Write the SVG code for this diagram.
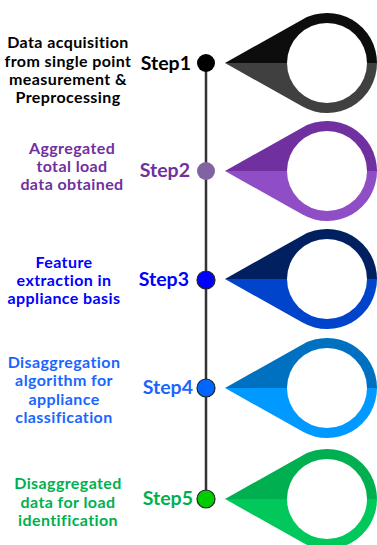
<svg xmlns="http://www.w3.org/2000/svg" width="377" height="545" viewBox="0 0 377 545">
<defs>
<style>
.t{font-family:Lato,"Open Sans","Liberation Sans",sans-serif;font-weight:bold;font-size:16px;letter-spacing:0.4px;text-anchor:middle}
.s{font-family:Lato,"Open Sans","Liberation Sans",sans-serif;font-weight:bold;font-size:19.5px;text-anchor:end}
.inner{fill:#fff}
.dot{stroke:#222;stroke-width:1.2}
</style>
<path id="pinTop" d="M-102,0 L-24.5,-43.6 A50,50 0 0 1 50,0 Z"/>
<path id="pinBot" d="M-102,0 L50,0 A50,50 0 0 1 -24.5,43.6 Z"/>
</defs>
<rect width="377" height="545" fill="#fff"/>
<g id="connectors">
<line x1="206" y1="63" x2="206" y2="499" stroke="#333" stroke-width="2.5"/>
</g>
<g id="step1">
<g transform="translate(327,63)">
<use href="#pinTop" fill="#0d0d0d"/><use href="#pinBot" fill="#404040"/><circle class="inner" r="40"/>
</g>
<circle cx="206" cy="63" r="9" fill="#000"/>
<text class="s" x="191" y="70" fill="#000">Step1</text>
<text class="t" fill="#000"><tspan x="68" y="48">Data acquisition</tspan><tspan x="68" y="67">from single point</tspan><tspan x="68" y="85">measurement &amp;</tspan><tspan x="68" y="103">Preprocessing</tspan></text>
</g>
<g id="step2">
<g transform="translate(327,171)">
<use href="#pinTop" fill="#7030a0"/><use href="#pinBot" fill="#904ec6"/><circle class="inner" r="40"/>
</g>
<circle cx="206" cy="171" r="9" fill="#8064a2"/>
<text class="s" x="190" y="177" fill="#7030a0">Step2</text>
<text class="t" fill="#7030a0"><tspan x="72" y="154">Aggregated</tspan><tspan x="72" y="172">total load</tspan><tspan x="72" y="190">data obtained</tspan></text>
</g>
<g id="step3">
<g transform="translate(327,279)">
<use href="#pinTop" fill="#002060"/><use href="#pinBot" fill="#0044cc"/><circle class="inner" r="40"/>
</g>
<circle class="dot" cx="206" cy="280" r="9" fill="#0000ff"/>
<text class="s" x="189" y="286" fill="#0000ff">Step3</text>
<text class="t" fill="#0000ff"><tspan x="64" y="268">Feature</tspan><tspan x="64" y="286">extraction in</tspan><tspan x="64" y="304">appliance basis</tspan></text>
</g>
<g id="step4">
<g transform="translate(327,388)">
<use href="#pinTop" fill="#0070c0"/><use href="#pinBot" fill="#0099ff"/><circle class="inner" r="40"/>
</g>
<circle class="dot" cx="206" cy="388" r="9" fill="#0066ff"/>
<text class="s" x="193" y="394" fill="#1a66ff">Step4</text>
<text class="t" fill="#1a66ff"><tspan x="64" y="368">Disaggregation</tspan><tspan x="64" y="386">algorithm for</tspan><tspan x="64" y="405">appliance</tspan><tspan x="64" y="423">classification</tspan></text>
</g>
<g id="step5">
<g transform="translate(327,499)">
<use href="#pinTop" fill="#00b050"/><use href="#pinBot" fill="#00c85a"/><circle class="inner" r="40"/>
</g>
<circle class="dot" cx="206" cy="499" r="9" fill="#00cc00"/>
<text class="s" x="193" y="505" fill="#00b050">Step5</text>
<text class="t" fill="#00b050"><tspan x="68" y="489">Disaggregated</tspan><tspan x="68" y="508">data for load</tspan><tspan x="68" y="526">identification</tspan></text>
</g>
</svg>
